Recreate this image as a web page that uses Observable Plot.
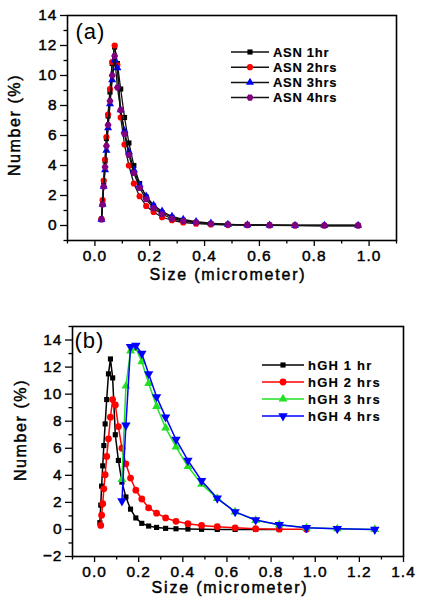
<!DOCTYPE html>
<html><head><meta charset="utf-8">
<script src="https://cdn.jsdelivr.net/npm/d3@7"></script>
<script src="https://cdn.jsdelivr.net/npm/@observablehq/plot@0.6"></script>
<style>
body{margin:0;background:#fff;width:423px;height:607px;overflow:hidden;position:relative;font-family:"Liberation Sans",Arial,sans-serif}
#a{position:absolute;left:0;top:0}
#b{position:absolute;left:0;top:300px}
#a text,#b text{stroke:#000;stroke-width:0.45px}
#a text.leg,#b text.leg{stroke-width:0.15px}
#a g[aria-label="text"] text,#b g[aria-label="text"] text{stroke:none}
</style>
</head><body><div id="a"></div><div id="b"></div>
<script>
// ---------- data ----------
const sizeBins = [0.021, 0.024, 0.028, 0.032, 0.037, 0.042, 0.048, 0.055, 0.063, 0.072, 0.082, 0.094, 0.108, 0.124, 0.142, 0.163, 0.187, 0.214, 0.245, 0.281, 0.322, 0.369, 0.423, 0.485, 0.556, 0.637, 0.73, 0.837, 0.96, 1.1, 1.27];

const asnNames = ["ASN 1hr", "ASN 2hrs", "ASN 3hrs", "ASN 4hrs"];
const asnFirstBin = [1, 1, 1, 1];
const asn1hr  = [0.4, 1.6, 2.9, 4.3, 5.8, 7.3, 8.9, 10.8, 11.9, 10.8, 9.1, 7.2, 5.5, 4.0, 2.8, 1.9, 1.3, 0.85, 0.55, 0.35, 0.2, 0.12, 0.07, 0.03, 0.02, 0.01, 0, 0];
const asn2hrs = [0.45, 1.7, 3.0, 4.4, 5.9, 7.4, 9.1, 10.9, 12.0, 10.7, 7.2, 5.4, 4.0, 2.8, 1.95, 1.3, 0.9, 0.55, 0.35, 0.2, 0.12, 0.07, 0.03, 0.02, 0.01, 0, 0, 0];
const asn3hrs = [0.4, 1.4, 2.6, 3.7, 5.0, 6.5, 8.1, 9.7, 11.0, 10.5, 7.7, 6.3, 4.9, 3.7, 2.7, 1.95, 1.35, 0.95, 0.6, 0.4, 0.25, 0.15, 0.08, 0.04, 0.02, 0.01, 0, 0];
const asn4hrs = [0.4, 1.4, 2.6, 3.9, 5.3, 6.7, 8.3, 10.0, 11.3, 9.2, 7.7, 6.1, 4.7, 3.5, 2.5, 1.75, 1.15, 0.75, 0.45, 0.3, 0.2, 0.12, 0.07, 0.04, 0.02, 0.01, 0, 0];

const hghNames = ["hGH 1 hr", "hGH 2 hrs", "hGH 3 hrs", "hGH 4 hrs"];
const hghFirstBin = [1, 2, 13, 13];
const hgh1hr  = [0.5, 1.8, 3.2, 4.7, 6.2, 7.8, 9.6, 11.5, 12.6, 11.2, 7.0, 5.1, 3.5, 2.4, 1.5, 0.85, 0.45, 0.25, 0.15, 0.08, 0.05, 0.03, 0.01, 0, 0, 0, 0];
const hgh2hrs = [0.3, 1.05, 1.9, 3.0, 4.05, 5.4, 6.7, 8.3, 9.6, 9.2, 7.6, 6.0, 4.85, 3.8, 2.9, 2.25, 1.6, 1.2, 0.85, 0.6, 0.42, 0.3, 0.2, 0.12, 0.05, 0.02, 0.01];
const hgh3hrs = [3.7, 10.6, 13.2, 13.4, 12.4, 10.8, 9.1, 7.5, 6.1, 4.65, 3.35, 2.3, 1.3, 0.67, 0.35, 0.12, 0.05, 0.0];
const hgh4hrs = [2.1, 7.7, 13.5, 13.6, 13.0, 11.5, 9.8, 8.3, 6.65, 5.1, 3.6, 2.3, 1.3, 0.7, 0.35, 0.12, 0.05, 0.0];

const xTicksA = [0, 0.2, 0.4, 0.6, 0.8, 1.0];
const xMinorA = [-0.1, 0.1, 0.3, 0.5, 0.7, 0.9, 1.1];
const yTicksA = [0, 2, 4, 6, 8, 10, 12, 14];
const yMinorA = [-1, 1, 3, 5, 7, 9, 11, 13];
const xTicksB = [0, 0.2, 0.4, 0.6, 0.8, 1.0, 1.2, 1.4];
const xMinorB = [-0.1, 0.1, 0.3, 0.5, 0.7, 0.9, 1.1, 1.3];
const yTicksB = [-2, 0, 2, 4, 6, 8, 10, 12, 14];
const yMinorB = [-1, 1, 3, 5, 7, 9, 11, 13, 15];

const xTitle = "Size (micrometer)";
const yTitle = "Number (%)";

// ---------- symbols ----------
const sqrt3 = Math.sqrt(3);
const triangleDown = {draw(ctx, size) {
  const y = -Math.sqrt(size / (sqrt3 * 3));
  ctx.moveTo(0, -y * 2); ctx.lineTo(-sqrt3 * y, y); ctx.lineTo(sqrt3 * y, y); ctx.closePath();
}};
const hexagon = {draw(ctx, size) {
  const r = Math.sqrt(size * 2 / (3 * sqrt3));
  for (let i = 0; i < 6; i++) {
    const a = Math.PI / 3 * i;
    const px = r * Math.cos(a), py = r * Math.sin(a);
    if (i === 0) ctx.moveTo(px, py); else ctx.lineTo(px, py);
  }
  ctx.closePath();
}};

function buildRows(names, firstBins, values) {
  return names.flatMap((name, s) => values[s].map((v, i) => ({series: name, size: sizeBins[firstBins[s] + i], number: v})));
}
const rowsA = buildRows(asnNames, asnFirstBin, [asn1hr, asn2hrs, asn3hrs, asn4hrs]);
const rowsB = buildRows(hghNames, hghFirstBin, [hgh1hr, hgh2hrs, hgh3hrs, hgh4hrs]);

const styleA = {
  names: asnNames,
  lines: ["#111", "#111", "#111", "#111"],
  fills: ["#000000", "#ff0000", "#0000ff", "#800080"],
  symbols: [d3.symbolSquare, d3.symbolCircle, d3.symbolTriangle, hexagon],
  radii: [2.9, 3.1, 3.0, 3.2],
  lw: 1.3
};
const styleB = {
  names: hghNames,
  lines: ["#000000", "#ff0000", "#22e022", "#0000ff"],
  fills: ["#000000", "#ff0000", "#22e022", "#0000ff"],
  symbols: [d3.symbolSquare, d3.symbolCircle, d3.symbolTriangle, triangleDown],
  radii: [2.9, 3.4, 3.3, 3.5],
  lw: 1.5
};

function seriesMarks(rows, st) {
  return st.names.flatMap((name, s) => {
    const d = rows.filter(r => r.series === name);
    return [
      Plot.line(d, {x: "size", y: "number", stroke: st.lines[s], strokeWidth: st.lw}),
      Plot.dot(d, {x: "size", y: "number", fill: st.fills[s], stroke: "none", symbol: st.symbols[s], r: st.radii[s]})
    ];
  });
}

const fmt1 = d3.format(".1f");
const fontStyle = {fontFamily: "'Liberation Sans', Arial, sans-serif", fontSize: "15.5px", color: "#000", background: "#fff", overflow: "visible", letterSpacing: "1px"};

function makePanel(opts) {
  return Plot.plot({
    width: 423, height: opts.height,
    marginLeft: opts.ml, marginRight: opts.mr, marginTop: opts.mt, marginBottom: opts.mb,
    x: {domain: opts.xDomain}, y: {domain: opts.yDomain},
    style: fontStyle,
    marks: [
      Plot.axisX({ticks: opts.xTicks, tickFormat: fmt1, tickSize: 6, tickPadding: 3, label: null, strokeWidth: 1.3}),
      Plot.axisX({ticks: opts.xMinor, tickFormat: () => "", tickSize: 3.5, label: null, strokeWidth: 1.3}),
      Plot.axisY({ticks: opts.yTicks, tickFormat: d3.format("d"), tickSize: 7, tickPadding: 3, label: null, strokeWidth: 1.3}),
      Plot.axisY({ticks: opts.yMinor, tickFormat: () => "", tickSize: 3.5, label: null, strokeWidth: 1.3}),
      ...seriesMarks(opts.rows, opts.st),
      Plot.frame({stroke: "#000", strokeWidth: 1.6}),
      Plot.text([opts.tag], {text: d => d, frameAnchor: "top-left", dx: opts.tagDx, dy: opts.tagDy, fontSize: 22, lineAnchor: "top", textAnchor: "start"})
    ]
  });
}

function decorate(svg, st, o) {
  const g = d3.select(svg).append("g").attr("fill", "#000");
  g.append("text").text(xTitle).attr("x", o.xtx).attr("y", o.xty).attr("text-anchor", "middle")
    .style("font-size", "16px").style("letter-spacing", "1.8px");
  g.append("text").text(yTitle).attr("transform", `translate(${o.ytx},${o.yty}) rotate(-90)`).attr("text-anchor", "middle")
    .style("font-size", "16px").style("letter-spacing", "1.6px");
  st.names.forEach((name, s) => {
    const y = o.legY + s * o.legStep;
    g.append("line").attr("x1", o.legX1).attr("x2", o.legX2).attr("y1", y).attr("y2", y)
      .attr("stroke", o.legLine ? o.legLine : st.lines[s]).attr("stroke-width", 1.5);
    const r = st.radii[s];
    g.append("path").attr("d", d3.symbol(st.symbols[s], r * r * Math.PI)())
      .attr("transform", `translate(${(o.legX1 + o.legX2) / 2},${y})`).attr("fill", st.fills[s]);
    g.append("text").attr("class", "leg").text(name).attr("x", o.legTx).attr("y", y + 4.7).attr("text-anchor", "start")
      .style("font-size", "13px").style("font-weight", "bold").style("letter-spacing", o.legLs);
  });
}

const svgA = makePanel({height: 300, ml: 67, mr: 27, mt: 15, mb: 60, xDomain: [-0.1, 1.1], yDomain: [-1, 14],
  xTicks: xTicksA, xMinor: xMinorA, yTicks: yTicksA, yMinor: yMinorA, rows: rowsA, st: styleA, tag: "(a)", tagDx: 8, tagDy: 8});
decorate(svgA, styleA, {xtx: 228, xty: 280, ytx: 20, yty: 125, legX1: 231, legX2: 269, legY: 52, legStep: 15.2, legTx: 273, legLine: "#111", legLs: "0.7px"});
document.getElementById("a").appendChild(svgA);

const svgB = makePanel({height: 307, ml: 72, mr: 20, mt: 26, mb: 51, xDomain: [-0.1, 1.4], yDomain: [-2, 15],
  xTicks: xTicksB, xMinor: xMinorB, yTicks: yTicksB, yMinor: yMinorB, rows: rowsB, st: styleB, tag: "(b)", tagDx: 2, tagDy: 6});
decorate(svgB, styleB, {xtx: 230, xty: 293, ytx: 26, yty: 130, legX1: 262, legX2: 304, legY: 65, legStep: 17, legTx: 308, legLine: null, legLs: "1.2px"});
document.getElementById("b").appendChild(svgB);
</script>
</body></html>
